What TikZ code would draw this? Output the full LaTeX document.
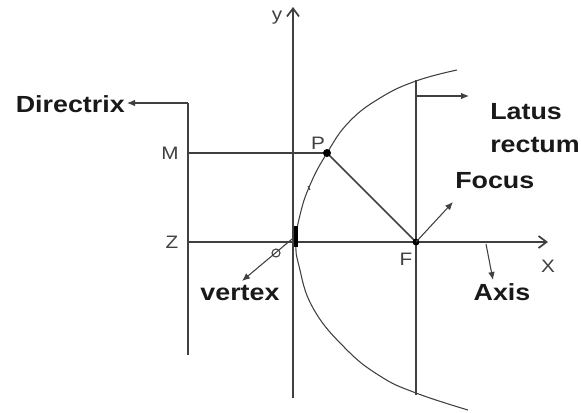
\documentclass[tikz,border=0pt]{standalone}
\usepackage{fontspec}
\setmainfont{Liberation Sans}
\newfontfamily\widesans[FakeStretch=1.15]{Liberation Sans}
\usetikzlibrary{arrows.meta}
\definecolor{ink}{HTML}{404040}
\tikzset{
  ln/.style={draw=ink, line width=1.3pt},
  thin/.style={draw=ink, line width=0.8pt},
  big/.style={font=\widesans\fontsize{17.5}{19}\selectfont\bfseries, text=black!90, inner sep=0pt},
  small/.style={font=\widesans\fontsize{13.5}{15}\selectfont, text=ink, inner sep=0pt},
  tip/.style={-{Latex[length=6pt,width=5pt]}},
  vtip/.style={-{Straight Barb[length=6pt,width=9pt]}},
}
\begin{document}
\begin{tikzpicture}[x=0.75pt,y=-0.75pt]
\useasboundingbox (0,0) rectangle (581,412);
% key points
\coordinate (O) at (296,242);
\coordinate (F) at (416,242);
\coordinate (P) at (327,153);
\coordinate (Mp) at (188,153);
\coordinate (Zp) at (188,242);
\coordinate (Dtop) at (188,103);
\coordinate (Dbot) at (188,355);
\coordinate (Ytop) at (293,7);
\coordinate (Ybot) at (293,398);
\coordinate (Xend) at (548,242);
\coordinate (Ltop) at (416,80);
\coordinate (Lbot) at (416,395);
\coordinate (Lmid) at (416,96);
\coordinate (Lar) at (469,96);
\coordinate (Far) at (453,202);
\coordinate (Ast) at (486,244);
\coordinate (Aar) at (493,280);
\coordinate (Vst) at (292,239);
\coordinate (Var) at (242,281);
% axes
\draw[ln, vtip] (Ybot) -- (Ytop);
\draw[ln, vtip] (Zp) -- (Xend);
% directrix
\draw[ln] (Dtop) -- (Dbot);
\draw[thin, tip] (Dtop) -- (127,103) coordinate (Dar);
% latus rectum
\draw[ln] (Ltop) -- (Lbot);
\draw[thin, tip] (Lmid) -- (Lar);
% parabola
\draw[thin] plot[smooth, tension=0.75] coordinates {(457,70) (416,81) (380,98) (349,122) (327,153) (310,185) (300,215) (296,242) (299,266) (313,308) (345,348) (380,376) (416,393) (468,410)};
% vertex mark
\draw[draw=black, line width=3pt] (296,226) -- (296,247);
% PM and PF
\draw[ln] (Mp) -- (P);
\draw[ln] (P) -- (F);
\fill[black] (P) circle (3pt);
\fill[black] (F) circle (2.6pt);
\draw[thin] (308,186) -- (310,190);
% arrows to labels
\draw[thin, tip] (F) -- (Far);
\draw[thin, tip] (Ast) -- (Aar);
\draw[thin, tip] (Vst) -- (Var);
\draw[thin] (276,253) circle (4);
% labels
\node[big, anchor=east] (dirl) at (125,104) {Directrix};
\node[big, anchor=west] (latl) at (490,112) {Latus};
\node[big, anchor=west] (recl) at (490,145) {rectum};
\node[big, anchor=west] (focl) at (455,181) {Focus};
\node[big] (axl) at (502,292) {Axis};
\node[big] (vxl) at (240,293) {vertex};
\node[small] (ml) at (170,153) {M};
\node[small] (zl) at (172,242) {Z};
\node[small] (pl) at (318,143) {P};
\node[small] (fl) at (406,259) {F};
\node[small] (yl) at (277,18) {y};
\node[small] (xl) at (548,266) {X};
\end{tikzpicture}
\end{document}
